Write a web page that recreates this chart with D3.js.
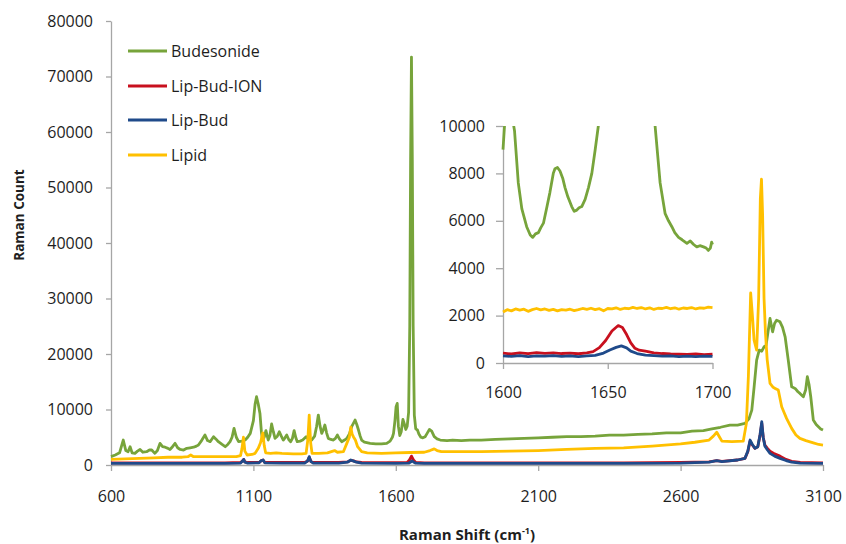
<!DOCTYPE html>
<html>
<head>
<meta charset="utf-8">
<script src="https://cdn.jsdelivr.net/npm/d3@7"></script>
<style>
  body { margin: 0; background: #fff; }
  #chart { width: 846px; height: 544px; }
  text { font-family: "Open Sans", sans-serif; fill: #1e1e1e; }
</style>
</head>
<body>
<div id="chart"></div>
<script>
// Series names and colours (legend order)
const seriesNames = ["Budesonide", "Lip-Bud-ION", "Lip-Bud", "Lipid"];
const seriesColors = ["#77a43b", "#c8101e", "#1f4a8a", "#ffc000"];

// Main spectra: [Raman shift, count]
const budesonide = [[600,1500],[615,1800],[630,2200],[643,4500],[652,2600],[660,2400],[667,3300],[674,2200],[684,2100],[693,2500],[702,2800],[712,2300],[725,2400],[735,2700],[743,2700],[754,2100],[763,2600],[772,3900],[781,3300],[790,3200],[800,3000],[807,2800],[816,3300],[825,3900],[834,3100],[843,2800],[855,2700],[866,3000],[878,3100],[890,3200],[900,3400],[907,3600],[918,4400],[930,5400],[939,4400],[948,4200],[960,5100],[968,4700],[977,4200],[990,3700],[1001,3300],[1010,3700],[1018,4200],[1025,5000],[1032,6600],[1040,5000],[1048,4200],[1060,4300],[1071,4500],[1080,5000],[1089,5700],[1100,8000],[1106,11000],[1111,12300],[1117,11000],[1123,9300],[1128,6000],[1132,4500],[1138,5000],[1144,6200],[1152,4500],[1158,5300],[1164,7400],[1170,6000],[1176,4800],[1184,5200],[1191,6000],[1198,5200],[1205,4500],[1211,4900],[1217,5400],[1224,4600],[1231,4200],[1237,4800],[1243,6200],[1249,4900],[1254,4200],[1264,4300],[1273,4500],[1285,5100],[1295,4600],[1305,4500],[1315,5200],[1322,7000],[1328,9000],[1334,7000],[1340,5700],[1346,6400],[1351,7200],[1357,5800],[1363,4800],[1372,4600],[1381,4500],[1388,4800],[1395,5400],[1402,4700],[1410,4200],[1420,4500],[1428,4800],[1437,5600],[1445,6900],[1452,7600],[1457,8100],[1463,7300],[1469,6300],[1475,5200],[1480,4500],[1490,4100],[1510,3900],[1530,3800],[1550,3800],[1568,3900],[1580,4300],[1588,5000],[1592,5700],[1597,8000],[1601,10500],[1605,11100],[1609,7000],[1614,5300],[1619,6000],[1625,8200],[1630,7400],[1635,6400],[1640,7000],[1645,9500],[1649,25000],[1652,55000],[1655,73500],[1658,55000],[1661,25000],[1665,9000],[1670,6500],[1676,6300],[1681,5600],[1688,5000],[1695,4900],[1703,5100],[1710,5700],[1718,6400],[1726,6100],[1735,5100],[1745,4700],[1756,4500],[1780,4400],[1800,4500],[1830,4400],[1860,4500],[1900,4500],[1950,4600],[2000,4700],[2050,4800],[2100,4900],[2150,5000],[2200,5100],[2250,5100],[2300,5200],[2350,5400],[2400,5400],[2450,5500],[2500,5600],[2550,5800],[2600,5800],[2640,6100],[2680,6200],[2710,6500],[2740,6800],[2773,7200],[2800,7200],[2826,7500],[2840,8300],[2850,9900],[2858,14000],[2867,18900],[2876,20700],[2885,20500],[2893,21300],[2900,21500],[2907,24000],[2914,26400],[2923,24000],[2930,25500],[2937,26100],[2949,25800],[2958,24800],[2967,23100],[2978,18900],[2990,14100],[3002,13800],[3012,13200],[3019,12900],[3031,12300],[3039,13500],[3045,15900],[3051,14500],[3057,12300],[3066,8100],[3076,7300],[3084,6900],[3092,6500],[3100,6300]];

const lipBudIon = [[600,400],[700,400],[800,400],[900,400],[1000,400],[1055,450],[1062,750],[1066,1000],[1070,550],[1080,450],[1120,450],[1128,800],[1134,900],[1140,450],[1200,450],[1280,450],[1290,700],[1296,1400],[1302,650],[1310,450],[1400,450],[1430,550],[1442,850],[1452,750],[1462,550],[1480,450],[1600,420],[1640,450],[1648,900],[1655,1600],[1662,900],[1670,450],[1700,400],[1800,400],[2000,400],[2200,400],[2400,400],[2600,450],[2700,550],[2727,800],[2745,650],[2800,900],[2826,1200],[2836,2400],[2844,4300],[2852,3600],[2861,3000],[2871,3300],[2879,5300],[2885,7500],[2890,5000],[2896,3600],[2905,3000],[2914,2500],[2930,2000],[2949,1600],[2970,1000],[2990,650],[3020,450],[3100,400]];

const lipBud = [[600,300],[700,300],[800,300],[900,300],[1000,300],[1055,350],[1062,700],[1066,1000],[1070,500],[1080,350],[1120,400],[1128,800],[1134,900],[1140,400],[1200,350],[1280,350],[1290,700],[1296,1500],[1302,600],[1310,350],[1400,350],[1430,500],[1442,900],[1452,700],[1462,500],[1480,350],[1600,300],[1645,320],[1652,550],[1657,720],[1662,550],[1670,330],[1700,300],[1800,300],[2000,300],[2200,300],[2400,300],[2600,350],[2700,500],[2727,800],[2745,600],[2800,900],[2826,1200],[2836,2500],[2844,4500],[2852,3700],[2861,3000],[2871,3300],[2879,5500],[2885,7800],[2890,5000],[2896,3400],[2905,2700],[2914,2100],[2930,1600],[2949,1200],[2970,800],[2990,500],[3020,350],[3100,300]];

const lipid = [[600,1000],[650,1100],[700,1200],[750,1300],[800,1400],[850,1400],[870,1500],[880,1800],[890,1500],[950,1500],[1000,1500],[1040,1500],[1055,1700],[1060,3000],[1065,5000],[1070,2500],[1078,1800],[1095,1900],[1106,2100],[1117,3000],[1125,4000],[1133,5800],[1138,3500],[1143,2200],[1160,2100],[1180,2200],[1200,2100],[1240,2000],[1270,2000],[1285,2100],[1291,4500],[1296,9000],[1301,4000],[1306,2100],[1330,2100],[1360,2200],[1385,2600],[1395,2300],[1416,2400],[1428,3900],[1437,5000],[1442,6800],[1447,5500],[1451,5100],[1458,4500],[1466,3300],[1480,2400],[1500,2200],[1550,2100],[1600,2200],[1650,2250],[1700,2300],[1720,2600],[1735,2900],[1745,2600],[1760,2400],[1800,2400],[1900,2400],[2000,2500],[2100,2600],[2200,2800],[2300,3000],[2400,3100],[2500,3400],[2600,3800],[2650,4100],[2700,4500],[2715,5200],[2727,5900],[2737,5000],[2745,4300],[2780,4200],[2820,4300],[2831,7500],[2838,16000],[2846,31000],[2852,27000],[2858,22500],[2867,20700],[2874,30000],[2880,48000],[2884,51500],[2888,45000],[2893,30000],[2898,23800],[2904,19000],[2914,14700],[2925,14000],[2932,13800],[2943,13500],[2955,10500],[2963,9500],[2972,8400],[2990,6600],[3005,5400],[3019,4800],[3040,4400],[3066,4000],[3085,3700],[3100,3600]];

// Inset spectra 1600-1700
const insetBudesonide = [[1600,9000],[1601,10400],[1602.5,11000],[1604,10600],[1605.5,9800],[1607.3,7600],[1609,6500],[1611.3,5750],[1613,5400],[1614.2,5300],[1615.5,5450],[1616.9,5500],[1618,5700],[1619.3,5900],[1621,6600],[1622.4,7200],[1624,8000],[1624.8,8200],[1626,8250],[1627.2,8100],[1628.5,7800],[1629.6,7400],[1631,7000],[1632.8,6600],[1634,6400],[1635.2,6450],[1636.3,6550],[1637.6,6600],[1639.2,6900],[1640.8,7400],[1642.4,8000],[1644,9000],[1645.5,10000],[1647,11500],[1650,20000],[1655,40000],[1660,20000],[1670,11000],[1672.6,10000],[1675,7600],[1677.4,6300],[1679,6000],[1680.6,5750],[1682,5500],[1683.8,5300],[1685.5,5200],[1687.8,5050],[1689.4,5150],[1691,5000],[1692.5,4900],[1694,4950],[1695.7,4900],[1697,4850],[1698,4750],[1699,4850],[1699.6,5100],[1700,5000]];

const insetLipBudIon = [[1600,420],[1604,380],[1608,430],[1612,400],[1616,440],[1620,410],[1624,430],[1628,400],[1632,420],[1636,390],[1640,430],[1643,480],[1646,650],[1649,950],[1652,1350],[1655,1580],[1657,1500],[1659,1200],[1661,850],[1663,620],[1665,540],[1668,500],[1672,430],[1676,400],[1680,380],[1684,370],[1688,360],[1692,380],[1696,350],[1700,370]];

const insetLipBud = [[1600,300],[1604,280],[1608,310],[1612,270],[1616,300],[1620,290],[1624,310],[1628,280],[1632,300],[1636,270],[1640,300],[1644,320],[1648,420],[1651,550],[1654,660],[1656.5,720],[1659,640],[1661,500],[1664,400],[1668,330],[1672,310],[1676,290],[1680,300],[1684,270],[1688,290],[1692,270],[1696,290],[1700,280]];

const insetLipid = [[1600,2150],[1602,2250],[1604,2200],[1606,2280],[1608,2230],[1610,2270],[1612,2180],[1614,2250],[1616,2300],[1618,2240],[1620,2280],[1622,2220],[1624,2260],[1626,2200],[1628,2250],[1630,2230],[1632,2270],[1634,2210],[1636,2250],[1638,2300],[1640,2260],[1642,2310],[1644,2250],[1646,2290],[1648,2200],[1650,2300],[1652,2280],[1654,2330],[1656,2260],[1658,2310],[1660,2290],[1662,2350],[1664,2300],[1666,2340],[1668,2280],[1670,2330],[1672,2260],[1674,2310],[1676,2300],[1678,2350],[1680,2290],[1682,2330],[1684,2270],[1686,2320],[1688,2300],[1690,2340],[1692,2280],[1694,2330],[1696,2310],[1698,2360],[1700,2340]];

const xTicks = [600, 1100, 1600, 2100, 2600, 3100];
const yTicks = [0, 10000, 20000, 30000, 40000, 50000, 60000, 70000, 80000];
const insetXTicks = [1600, 1650, 1700];
const insetYTicks = [0, 2000, 4000, 6000, 8000, 10000];

const width = 846, height = 544;
const axisColor = "#a6a6a6";

const svg = d3.select("#chart")
  .append("svg")
  .attr("width", width)
  .attr("height", height)
  .attr("viewBox", [0, 0, width, height]);

// Main scales
const x = d3.scaleLinear().domain([600, 3100]).range([111, 823]);
const y = d3.scaleLinear().domain([0, 80000]).range([465, 21]);

// Inset scales
const xi = d3.scaleLinear().domain([1600, 1700]).range([503, 712.5]);
const yi = d3.scaleLinear().domain([0, 10000]).range([363, 126]);

function styleAxis(g) {
  g.selectAll("path").attr("stroke", axisColor).attr("stroke-width", 1.3);
  g.selectAll("line").attr("stroke", axisColor).attr("stroke-width", 1.3);
  g.selectAll("text").attr("font-size", 16).attr("fill", "#1e1e1e")
    .attr("font-family", "'Open Sans', sans-serif");
}

// main axes
svg.append("g")
  .attr("transform", `translate(0,${y(0)})`)
  .call(d3.axisBottom(x).tickValues(xTicks).tickFormat(d3.format("d"))
    .tickSize(6).tickSizeOuter(0).tickPadding(20))
  .call(styleAxis);

svg.append("g")
  .attr("transform", `translate(${x(600)},0)`)
  .call(d3.axisLeft(y).tickValues(yTicks).tickFormat(d3.format("d"))
    .tickSize(5).tickSizeOuter(0).tickPadding(13))
  .call(styleAxis);

// inset axes
svg.append("g")
  .attr("transform", `translate(0,${yi(0)})`)
  .call(d3.axisBottom(xi).tickValues(insetXTicks).tickFormat(d3.format("d"))
    .tickSize(6).tickSizeOuter(0).tickPadding(18))
  .call(styleAxis);

svg.append("g")
  .attr("transform", `translate(${xi(1600)},0)`)
  .call(d3.axisLeft(yi).tickValues(insetYTicks).tickFormat(d3.format("d"))
    .tickSize(7).tickSizeOuter(0).tickPadding(11))
  .call(styleAxis);

// lines
const mainLine = d3.line().x(d => x(d[0])).y(d => y(d[1]));
const insetLine = d3.line().x(d => xi(d[0])).y(d => yi(d[1]));

svg.append("clipPath").attr("id", "insetClip")
  .append("rect")
  .attr("x", xi(1600) - 2).attr("y", yi(10000))
  .attr("width", xi(1700) - xi(1600) + 4).attr("height", yi(0) - yi(10000) + 4);

const mainSeries = [
  { data: budesonide, color: seriesColors[0] },
  { data: lipid, color: seriesColors[3] },
  { data: lipBudIon, color: seriesColors[1] },
  { data: lipBud, color: seriesColors[2] }
];
const insetSeries = [
  { data: insetBudesonide, color: seriesColors[0] },
  { data: insetLipid, color: seriesColors[3] },
  { data: insetLipBudIon, color: seriesColors[1] },
  { data: insetLipBud, color: seriesColors[2] }
];

svg.append("g").selectAll("path")
  .data(mainSeries)
  .join("path")
  .attr("fill", "none")
  .attr("stroke", d => d.color)
  .attr("stroke-width", 2.8)
  .attr("stroke-linejoin", "round")
  .attr("d", d => mainLine(d.data));

svg.append("g").attr("clip-path", "url(#insetClip)")
  .selectAll("path")
  .data(insetSeries)
  .join("path")
  .attr("fill", "none")
  .attr("stroke", d => d.color)
  .attr("stroke-width", 2.8)
  .attr("stroke-linejoin", "round")
  .attr("d", d => insetLine(d.data));

// legend
const legendRows = [51, 86, 120, 155];
const legend = svg.append("g");
seriesNames.forEach((name, i) => {
  legend.append("line")
    .attr("x1", 128).attr("x2", 167)
    .attr("y1", legendRows[i]).attr("y2", legendRows[i])
    .attr("stroke", seriesColors[i]).attr("stroke-width", 3);
  legend.append("text")
    .attr("x", 171).attr("y", legendRows[i])
    .attr("dy", "0.35em")
    .attr("font-size", 16)
    .text(name);
});

// axis titles
svg.append("text")
  .attr("transform", "translate(19,215) rotate(-90)")
  .attr("text-anchor", "middle")
  .attr("dy", "0.35em")
  .attr("font-size", 13.5)
  .attr("font-weight", "bold")
  .text("Raman Count");

const xTitle = svg.append("text")
  .attr("x", 467).attr("y", 540)
  .attr("text-anchor", "middle")
  .attr("font-size", 15)
  .attr("font-weight", "bold");
xTitle.append("tspan").text("Raman Shift (cm");
xTitle.append("tspan").attr("font-size", 9).attr("dy", -6).text("-1");
xTitle.append("tspan").attr("dy", 6).text(")");
</script>
</body>
</html>
